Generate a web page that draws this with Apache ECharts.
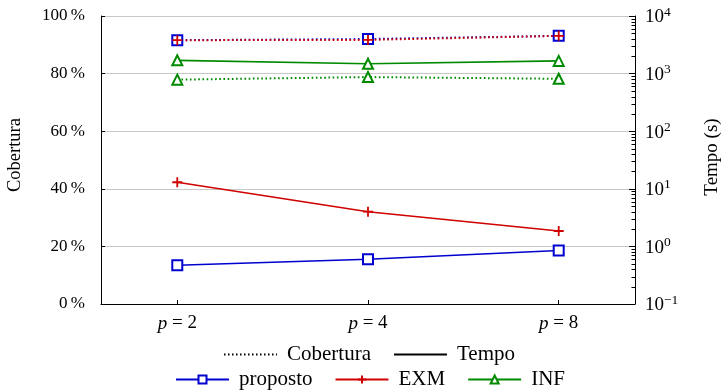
<!DOCTYPE html>
<html><head><meta charset="utf-8">
<script src="https://cdn.jsdelivr.net/npm/echarts@6/dist/echarts.min.js"></script>
<style>html,body{margin:0;padding:0;background:#fff}#c{width:724px;height:392px}</style>
</head><body><div id="c"></div>
<script>
const categories = ['2', '4', '8'];
const coberturaProposto = [91.6, 92.0, 93.1];
const coberturaEXM = [91.6, 91.7, 93.1];
const coberturaINF = [77.9, 78.8, 78.2];
const tempoProposto = [0.47, 0.60, 0.85];
const tempoEXM = [13.0, 4.0, 1.85];
const tempoINF = [1700, 1480, 1660];
const tempoDecades = [-1, 0, 1, 2, 3];
const minorMultipliers = [2, 3, 4, 5, 6, 7, 8, 9];

const FONT = '"Liberation Serif", "DejaVu Serif", serif';
const BLUE = '#0000d0', RED = '#d00000', GREEN = '#008a00';
const toPts = arr => arr.map((v, i) => [i, v]);
const plusPath = 'path://M5,0L5,10M0,5L10,5';

function mk(name, data, color, symbol, yIdx, dotted) {
  const s = {
    name: name, type: 'line', yAxisIndex: yIdx, data: toPts(data),
    symbol: symbol, symbolSize: 10, showSymbol: true,
    lineStyle: { color: color, width: dotted ? 2 : 1.6, type: dotted ? [1.6, 2.6] : 'solid' },
    itemStyle: { color: color, borderColor: color, borderWidth: 1.8 },
    emphasis: { disabled: true }, animation: false, z: 3
  };
  if (symbol === plusPath) s.itemStyle = { color: 'rgba(0,0,0,0)', borderColor: color, borderWidth: 1.8 };
  return s;
}

const minorTickValues = [];
tempoDecades.forEach(d => minorMultipliers.forEach(m => minorTickValues.push([0, m * Math.pow(10, d)])));

const legendText = { fontFamily: FONT, fontSize: 21, color: '#000', padding: [0, 0, 0, 5] };

const chart = echarts.init(document.getElementById('c'), null, { renderer: 'canvas' });
chart.setOption({
  animation: false,
  textStyle: { fontFamily: FONT },
  grid: { left: 101, right: 89, top: 16, bottom: 88, containLabel: false, outerBoundsMode: 'none' },
  xAxis: {
    type: 'value', min: -0.4, max: 2.4, splitNumber: 3,
    axisLine: { show: true, onZero: false, lineStyle: { color: '#000', width: 1 } },
    axisTick: { show: true, inside: true, length: 4, lineStyle: { color: '#000' } },
    splitLine: { show: false },
    axisLabel: {
      margin: 10, color: '#000', fontFamily: FONT, fontSize: 19,
      formatter: v => {
        const r = Math.round(v);
        if (Math.abs(v - r) < 1e-6 && r >= 0 && r < categories.length) return '{i|p} = ' + categories[r];
        return '';
      },
      rich: { i: { fontStyle: 'italic', fontFamily: FONT, fontSize: 19, color: '#000' } }
    }
  },
  yAxis: [
    {
      type: 'value', min: 0, max: 100, interval: 20, position: 'left',
      name: 'Cobertura', nameLocation: 'middle', nameGap: 76, nameRotate: 90,
      nameTextStyle: { fontFamily: FONT, fontSize: 18.5, color: '#000', padding: [0, 0, 0, 10] },
      axisLine: { show: true, onZero: false, lineStyle: { color: '#000', width: 1 } },
      axisTick: { show: true, inside: true, length: 4, lineStyle: { color: '#000' } },
      splitLine: { show: true, lineStyle: { color: '#c8c8c8', width: 1 } },
      axisLabel: { margin: 16, color: '#000', fontFamily: FONT, fontSize: 17, formatter: v => v + '\u2009%' }
    },
    {
      type: 'log', min: 0.1, max: 10000, logBase: 10, position: 'right',
      name: 'Tempo (s)', nameLocation: 'middle', nameGap: 68, nameRotate: 90,
      nameTextStyle: { fontFamily: FONT, fontSize: 19, color: '#000', padding: [0, 0, 0, 6] },
      axisLine: { show: true, onZero: false, lineStyle: { color: '#000', width: 1 } },
      axisTick: { show: true, inside: true, length: 6, lineStyle: { color: '#000' } },
      splitLine: { show: false },
      axisLabel: {
        margin: 10, color: '#000', fontFamily: FONT, fontSize: 19,
        formatter: v => {
          const e = Math.round(Math.log10(v));
          return '{b|10}{s|' + (e < 0 ? '\u2212' + (-e) : e) + '}';
        },
        rich: {
          b: { fontFamily: FONT, fontSize: 19, color: '#000', verticalAlign: 'bottom', lineHeight: 22 },
          s: { fontFamily: FONT, fontSize: 13.5, color: '#000', verticalAlign: 'top', lineHeight: 22, padding: [0, 0, 11, 0] }
        }
      }
    }
  ],
  legend: [
    {
      left: 223, top: 344, padding: 0, itemWidth: 53, itemHeight: 10, itemGap: 22,
      data: [
        { name: 'Cobertura', itemStyle: { opacity: 0 } },
        { name: 'Tempo', itemStyle: { opacity: 0 } }
      ],
      selectedMode: false, textStyle: legendText
    },
    {
      left: 175, top: 369, padding: 0, itemWidth: 53, itemHeight: 10, itemGap: 22,
      data: ['proposto', 'EXM', 'INF'], selectedMode: false,
      textStyle: legendText
    }
  ],
  series: [
    { name: 'Cobertura', type: 'line', data: [], symbol: 'none', yAxisIndex: 0,
      lineStyle: { color: '#000', width: 1.6, type: [1.5, 2.5] }, itemStyle: { color: '#000' } },
    { name: 'Tempo', type: 'line', data: [], symbol: 'none', yAxisIndex: 0,
      lineStyle: { color: '#000', width: 1.8 }, itemStyle: { color: '#000' } },
    {
      name: 'minorTicks', type: 'custom', yAxisIndex: 1, data: minorTickValues, silent: true,
      clip: false, z: 1,
      renderItem: (params, api) => {
        const y = api.coord([0, api.value(1)])[1];
        const xr = params.coordSys.x + params.coordSys.width;
        return { type: 'line', shape: { x1: xr - 3.5, y1: Math.round(y) + 0.5, x2: xr, y2: Math.round(y) + 0.5 },
                 style: { stroke: '#000', lineWidth: 1 } };
      }
    },
    mk('proposto', tempoProposto, BLUE, 'emptyRect', 1, false),
    mk('EXM', tempoEXM, RED, plusPath, 1, false),
    mk('INF', tempoINF, GREEN, 'emptyTriangle', 1, false),
    mk('Cobertura proposto', coberturaProposto, BLUE, 'emptyRect', 0, true),
    mk('Cobertura EXM', coberturaEXM, RED, plusPath, 0, true),
    mk('Cobertura INF', coberturaINF, GREEN, 'emptyTriangle', 0, true)
  ]
});
</script>
</body></html>
